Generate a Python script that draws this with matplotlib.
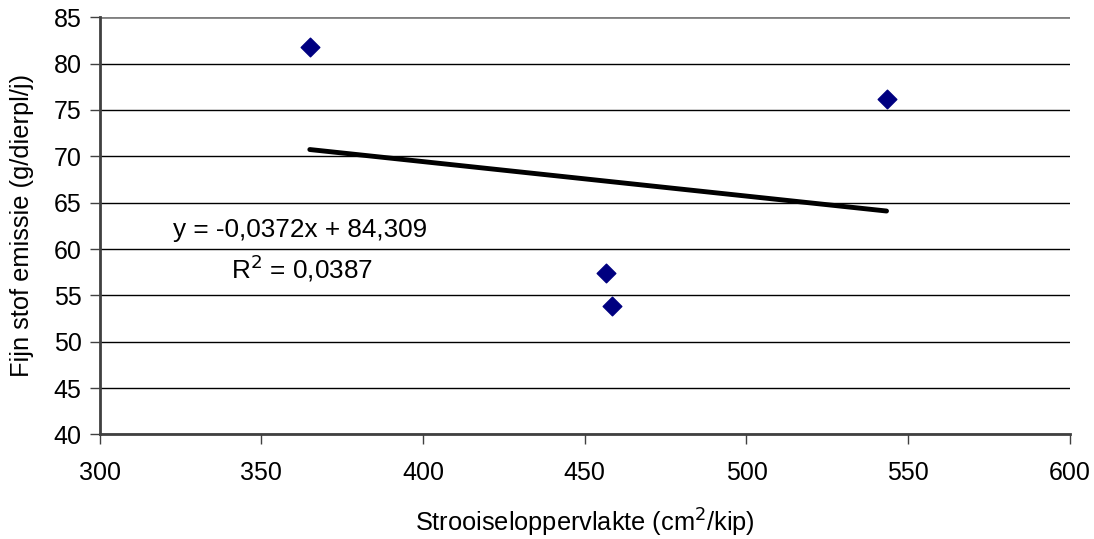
import numpy as np
import matplotlib.pyplot as plt

plt.rcParams['font.family'] = ['Liberation Sans', 'DejaVu Sans']

# Measured points
oppervlakte = [365, 456.6, 458.3, 543.3]
emissie = [81.8, 57.4, 53.9, 76.2]

# Linear trendline (as reported in the chart)
slope = -0.0372
intercept = 84.309
eq_text = 'y = -0,0372x + 84,309'
r2_text = r'R$^2$ = 0,0387'

fig = plt.figure(figsize=(10.94, 5.39), dpi=100)
ax = fig.add_axes([0.091, 0.194, 0.887, 0.774])

ax.set_xlim(300, 600)
ax.set_ylim(40, 85)
ax.set_xticks(np.arange(300, 601, 50))
ax.set_yticks(np.arange(40, 86, 5))

# Horizontal gridlines
ax.grid(True, axis='y', color='black', linewidth=1.0)
ax.set_axisbelow(True)
top_line = ax.get_ygridlines()[-1]
top_line.set_color('#808080')
top_line.set_linewidth(2)

for side in ['top', 'right']:
    ax.spines[side].set_visible(False)
ax.spines['left'].set_color('#404040')
ax.spines['left'].set_linewidth(2)
ax.spines['bottom'].set_color('#404040')
ax.spines['bottom'].set_linewidth(2)

ax.tick_params(axis='both', direction='out', length=7, width=1,
               color='#404040', labelsize=18)
ax.tick_params(axis='y', pad=6)
ax.tick_params(axis='x', pad=12)

# Trendline
xt = np.array([min(oppervlakte), max(oppervlakte)])
ax.plot(xt, slope * xt + intercept, color='black', linewidth=3.5,
        solid_capstyle='round', zorder=3)

# Data points
ax.scatter(oppervlakte, emissie, marker='D', s=90, color='#000080',
           edgecolors='#000080', zorder=4)

ax.text(362, 62.0, eq_text, fontsize=18.8, ha='center', va='center')
ax.text(362.5, 57.9, r2_text, fontsize=18.8, ha='center', va='center')

ax.set_xlabel('Strooiseloppervlakte (cm$^2$/kip)', fontsize=18.3, labelpad=16)
ax.set_ylabel('Fijn stof emissie (g/dierpl/j)', fontsize=18.3, labelpad=14)

plt.savefig('out.png', dpi=100)
